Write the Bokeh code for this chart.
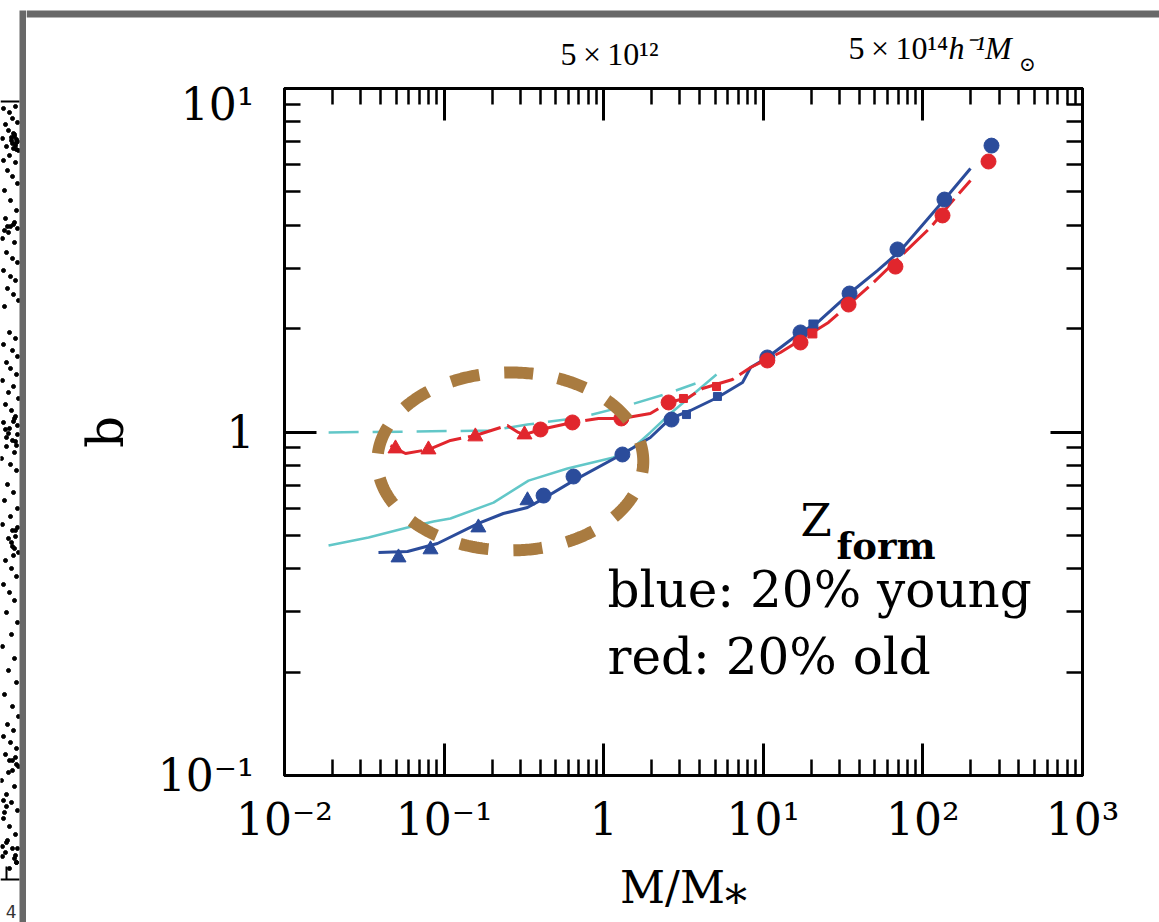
import numpy as np
from bokeh.plotting import figure
from bokeh.models import LogAxis, FixedTicker, ColumnDataSource, Grid
from bokeh.layouts import row, column
from bokeh.embed import file_html
from bokeh.resources import INLINE
from bokeh.core.properties import value
from bokeh.core.validation import silence
from bokeh.core.validation.warnings import MISSING_RENDERERS

silence(MISSING_RENDERERS, True)

# ---------------- data ----------------
x_major = [1e-2, 1e-1, 1.0, 1e1, 1e2, 1e3]
x_tick_labels = ["10⁻²", "10⁻¹", "1", "10¹", "10²", "10³"]
x_minor = [m * 10.0 ** e for e in range(-2, 3) for m in range(2, 10)]
y_major = [0.1, 1.0, 10.0]
y_tick_labels = ["10⁻¹", "1", "10¹"]
y_minor = [m * 10.0 ** e for e in (-1, 0) for m in range(2, 10)]

# secondary (halo mass) labels along the top, at M/M* positions
top_label_x = [0.536, 34.2]
top_labels = ["5\u2009×\u200910¹²", "5\u2009×\u200910¹⁴"]
top_unit_x = [144.5]
top_unit = ["h⁻¹M"]
top_unit_sub_x = [400.0]
top_unit_sub = ["⊙"]

# measured points: blue = 20% youngest, red = 20% oldest
blue_pts_x = [0.0518, 0.0822, 0.164, 0.333, 0.420, 0.647, 1.31, 2.66, 3.30, 5.16,
              10.6, 17.1, 20.6, 34.7, 69.3, 136.5, 269.0]
blue_pts_y = [0.431, 0.455, 0.527, 0.632, 0.653, 0.742, 0.860, 1.087, 1.124, 1.269,
              1.648, 1.949, 2.056, 2.53, 3.40, 4.75, 6.82]
red_pts_x = [0.0496, 0.0798, 0.157, 0.319, 0.402, 0.637, 1.29, 2.55, 3.16, 5.09,
             10.6, 17.1, 20.3, 34.2, 67.3, 132.7, 257.6]
red_pts_y = [0.895, 0.889, 0.970, 0.983, 1.017, 1.066, 1.095, 1.219, 1.252, 1.357,
             1.615, 1.822, 1.936, 2.35, 3.03, 4.27, 6.13]

# model curves
blue_line_x = [0.0388, 0.059, 0.0909, 0.164, 0.235, 0.333, 0.420, 0.647, 1.33, 1.96,
               2.62, 3.50, 5.16, 7.41, 8.32, 10.6, 17.1, 21.9, 35.2, 51.9, 72.4, 136.5, 198.7]
blue_line_y = [0.446, 0.449, 0.4735, 0.542, 0.579, 0.603, 0.640, 0.722, 0.866, 0.964,
               1.095, 1.155, 1.26, 1.393, 1.541, 1.648, 1.949, 2.084, 2.547, 2.95, 3.376, 4.75, 5.85]
red_line_x = [0.0461, 0.0573, 0.0798, 0.1096, 0.157, 0.249, 0.292, 0.319, 0.402, 0.637,
              0.927, 1.29, 1.96, 2.55, 3.40, 4.16, 6.41, 8.32, 12.8, 25.6, 48.3, 111.6, 148.9, 198.7]
red_line_y = [0.913, 0.866, 0.889, 0.945, 0.977, 1.045, 0.997, 0.983, 1.017, 1.066,
              1.095, 1.095, 1.132, 1.219, 1.26, 1.339, 1.422, 1.541, 1.704, 2.084, 2.706, 3.94, 4.63, 5.40]
cyan_solid_x = [0.01888, 0.0336, 0.059, 0.0858, 0.1096, 0.204, 0.338, 0.593, 1.152, 1.537,
                1.96, 2.62, 5.09]
cyan_solid_y = [0.467, 0.493, 0.527, 0.549, 0.560, 0.623, 0.722, 0.783, 0.843, 0.901,
                0.997, 1.132, 1.47]
cyan_dash_x = [0.0189, 0.0616, 0.195, 0.333, 0.716, 1.41, 2.51, 3.76]
cyan_dash_y = [0.997, 1.003, 1.01, 1.051, 1.102, 1.194, 1.294, 1.384]

# highlight ellipse (centre in data units, half-axes in decades)
ell_center = (0.26, 0.821)
ell_half_dex = (0.833, 0.259)

# partial neighbouring panel (strip pixel coords)
strip_x = [3, 9, 15, 12, 5, 17, 8, 14, 2, 11, 16, 6, 13, 18, 9, 3, 15, 7, 12, 17, 4,
           10, 16, 5, 13, 17, 8, 2, 14,
           6, 12, 17, 3, 10, 15, 7, 13, 18, 4,
           9, 15, 3, 12, 17, 6, 10, 16, 2, 13, 8, 18, 5, 11, 15, 3, 9, 17, 12, 6, 14, 1, 10, 16,
           7, 13, 4, 17, 10, 2, 15, 8, 12, 18, 5, 11, 16, 3, 9, 14,
           6, 17, 11, 2, 14, 8, 16, 4, 12, 18,
           7, 13, 3, 10, 16, 5, 12, 18, 8, 1, 14, 6, 11, 17, 3, 9, 15, 6, 12, 2, 16, 9,
           14, 16, 12, 15, 17, 11, 13, 16, 10, 14, 4, 7, 5, 8, 6, 15, 17, 13, 16, 14,
           12, 15, 11, 14, 17, 13, 9, 16, 12, 15, 3, 6, 4, 7, 2, 5, 15, 17, 14, 16]
strip_y = [108, 112, 106, 118, 124, 122, 130, 134, 138, 140, 142, 146, 148, 150, 155, 160, 162, 170, 176, 183, 190,
           200, 210, 218, 224, 228, 232, 238, 242,
           252, 258, 262, 270, 276, 280, 288, 294, 300, 306,
           332, 338, 344, 350, 356, 362, 368, 374, 380, 386, 392, 398, 404, 410, 416, 422, 428, 434, 440, 446, 452, 458, 464, 470,
           484, 492, 500, 508, 516, 524, 530, 538, 546, 552, 560, 568, 576, 584, 592, 600,
           612, 622, 634, 646, 658, 670, 682, 694, 706, 716,
           724, 730, 736, 742, 748, 754, 760, 766, 772, 780, 786, 794, 802, 810, 818, 826, 834, 842, 848, 856, 862, 868,
           136, 139, 143, 145, 141, 137, 133, 149, 226, 222, 230, 226, 429, 433, 437, 441, 425, 421, 445, 418,
           530, 536, 542, 548, 527, 555, 760, 764, 770, 757, 800, 806, 812, 840, 846, 852, 855, 848, 858, 862]

# ---------------- styles / layout constants ----------------
BLUE = "#2b4c9b"
RED = "#e1262d"
CYAN = "#62c7c8"
BROWN = "#a97b40"
GRAY = "#686868"
SERIF = "DejaVu Serif"
pt_markers = ["triangle"] * 4 + ["circle"] * 4 + ["square"] * 2 + \
             ["circle", "circle", "square", "circle", "circle", "circle", "circle"]
pt_sizes = [15] * 4 + [15] * 4 + [8] * 2 + [15, 15, 9, 15, 15, 15, 15]

W_LEFT, W_MAIN, H_HEAD, H_TOTAL = 26, 1133, 78, 922
B_LEFT, B_RIGHT, B_TOP, B_BOTTOM = 258, 77, 10, 147
DEC_PX = (W_MAIN - B_LEFT - B_RIGHT) / 5.0


def no_grids(fig):
    for r in list(fig.center):
        if isinstance(r, Grid):
            r.visible = False


# ---------------- main figure ----------------
p = figure(width=W_MAIN, height=H_TOTAL - H_HEAD, x_axis_type="log", y_axis_type="log",
           x_range=(0.01, 1000), y_range=(0.1, 10),
           x_axis_location=None, y_axis_location=None, title=None,
           toolbar_location=None, output_backend="svg",
           min_border_left=B_LEFT, min_border_right=B_RIGHT,
           min_border_top=B_TOP, min_border_bottom=B_BOTTOM,
           outline_line_color="black", outline_line_width=3,
           background_fill_color="white", border_fill_color="white")
p.frame_align = False
no_grids(p)


def style_axis(ax):
    ax.major_tick_in = 32
    ax.major_tick_out = 0
    ax.minor_tick_in = 16
    ax.minor_tick_out = 0
    ax.axis_line_width = 3
    ax.major_tick_line_width = 3
    ax.minor_tick_line_width = 2.5
    ax.axis_line_color = "black"
    ax.major_tick_line_color = "black"
    ax.minor_tick_line_color = "black"
    return ax


def labelled_axis(ticks, minor, labels):
    ax = style_axis(LogAxis(ticker=FixedTicker(ticks=ticks, minor_ticks=minor)))
    ax.major_label_overrides = dict(zip(ticks, labels))
    ax.major_label_text_font = SERIF
    ax.major_label_text_font_size = "44px"
    ax.major_label_text_color = "black"
    return ax


def tick_only_axis(ticks, length):
    # no major ticks -> no labels; the given ticks are drawn as (inward) minor ticks
    ax = style_axis(LogAxis(ticker=FixedTicker(ticks=[], minor_ticks=ticks)))
    ax.minor_tick_in = length
    ax.minor_tick_line_width = 3 if length > 20 else 2.5
    ax.axis_label = None
    return ax


bottom = labelled_axis(x_major, x_minor, x_tick_labels)
bottom.major_label_standoff = 18
bottom.axis_label = "M/M⁎"
bottom.axis_label_text_font = SERIF
bottom.axis_label_text_font_size = "44px"
bottom.axis_label_text_font_style = "normal"
bottom.axis_label_text_color = "black"
bottom.axis_label_standoff = 14
p.add_layout(bottom, "below")

left = labelled_axis(y_major, y_minor, y_tick_labels)
left.major_label_standoff = 30
left.axis_label = "b"
left.axis_label_text_font = SERIF
left.axis_label_text_font_size = "50px"
left.axis_label_text_font_style = "normal"
left.axis_label_text_color = "black"
left.axis_label_standoff = 20
p.add_layout(left, "left")

p.add_layout(tick_only_axis(x_minor, 16), "above")
p.add_layout(tick_only_axis(x_major, 32), "above")
p.add_layout(tick_only_axis(y_minor, 16), "right")
p.add_layout(tick_only_axis(y_major, 32), "right")

# curves
p.line(cyan_solid_x, cyan_solid_y, line_color=CYAN, line_width=2.5)
p.line(cyan_dash_x, cyan_dash_y, line_color=CYAN, line_width=2.5, line_dash="30 14")
p.line(blue_line_x, blue_line_y, line_color=BLUE, line_width=3)
p.line(red_line_x, red_line_y, line_color=RED, line_width=3, line_dash="34 7")

# points
p.scatter(x="x", y="y", marker="m", size="s", color=BLUE,
          source=ColumnDataSource(dict(x=blue_pts_x, y=blue_pts_y, m=pt_markers, s=pt_sizes)))
p.scatter(x="x", y="y", marker="m", size="s", color=RED,
          source=ColumnDataSource(dict(x=red_pts_x, y=red_pts_y, m=pt_markers, s=pt_sizes)))

# highlight ellipse
t = np.linspace(-0.10, -0.10 + 2 * np.pi, 400)
ex = 10 ** (np.log10(ell_center[0]) + ell_half_dex[0] * np.cos(t))
ey = 10 ** (np.log10(ell_center[1]) + ell_half_dex[1] * np.sin(t))
p.line(ex, ey, line_color=BROWN, line_width=12, line_dash="29 25", line_cap="butt")

# in-plot text
p.text(x=[17.1], y=[0.5525], text=["Z"], text_font=value(SERIF), text_font_size="45px",
       text_color="black", text_baseline="alphabetic")
p.text(x=[28.7], y=[0.467], text=["form"], text_font=value(SERIF), text_font_size="37px",
       text_font_style="bold", text_color="black", text_baseline="alphabetic")
p.text(x=[1.056, 1.056], y=[0.3456, 0.2206], text=["blue: 20% young", "red: 20% old"],
       text_font=value(SERIF), text_font_size="50px", text_color="black",
       text_baseline="alphabetic")

# ---------------- header: slide border + top mass labels ----------------
x_lo = 10 ** (-2 - B_LEFT / DEC_PX)
x_hi = 10 ** (3 + B_RIGHT / DEC_PX)
h = figure(width=W_MAIN, height=H_HEAD, x_axis_type="log", x_range=(x_lo, x_hi),
           y_range=(H_HEAD, 0), title=None, toolbar_location=None, output_backend="svg",
           min_border=0, x_axis_location=None, y_axis_location=None,
           outline_line_color=None, background_fill_color="white", border_fill_color="white")
h.frame_align = False
no_grids(h)
h.quad(left=[x_lo], right=[x_hi], top=[10], bottom=[17], fill_color=GRAY, line_color=None)
h.text(x=top_label_x, y=[53, 47], text=top_labels, text_font=value("Liberation Serif"),
       text_font_size="32px", text_color="black", text_baseline="alphabetic")
h.text(x=top_unit_x, y=[47], text=top_unit, text_font=value("Liberation Serif"),
       text_font_size="32px", text_font_style="italic", text_color="black",
       text_baseline="alphabetic")
h.text(x=top_unit_sub_x, y=[63], text=top_unit_sub, text_font=value("DejaVu Serif"),
       text_font_size="20px", text_color="black", text_baseline="alphabetic")

# ---------------- left strip: neighbouring panel + border ----------------
s = figure(width=W_LEFT, height=H_TOTAL, x_range=(0, W_LEFT), y_range=(H_TOTAL, 0), title=None,
           toolbar_location=None, output_backend="svg", min_border=0,
           x_axis_location=None, y_axis_location=None, outline_line_color=None,
           background_fill_color="white", border_fill_color="white")
s.frame_align = False
no_grids(s)
s.scatter(strip_x, strip_y, size=4, color="black")
s.segment(x0=[0, 0, 6], y0=[101, 879, 866], x1=[19, 19, 6], y1=[101, 879, 879],
          line_color="black", line_width=2)
s.text(x=[16], y=[911], text=["4"], text_align="right", text_baseline="alphabetic",
       text_font=value("DejaVu Sans"), text_font_size="17px", text_color="#333333")
s.quad(left=[19], right=[W_LEFT], top=[10], bottom=[H_TOTAL], fill_color=GRAY, line_color=None)

layout = row(s, column(h, p))

open("out.html", "w").write(file_html(layout, INLINE))
